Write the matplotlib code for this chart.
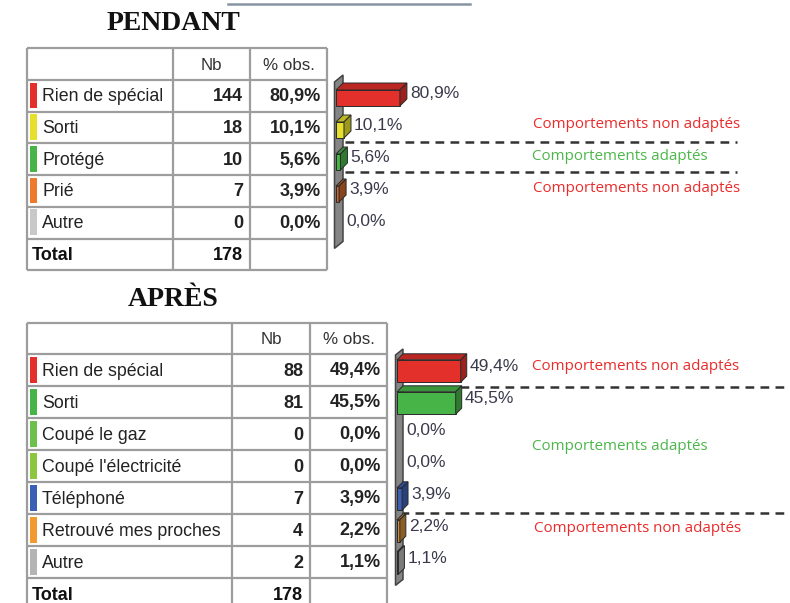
import matplotlib.pyplot as plt
import numpy as np
from matplotlib.patches import Polygon, Rectangle

# data
pendant_labels = ["Rien de spécial", "Sorti", "Protégé", "Prié", "Autre"]
pendant_nb = [144, 18, 10, 7, 0]
pendant_pct = [80.9, 10.1, 5.6, 3.9, 0.0]
pendant_total = 178
pendant_colors = ["#e3302a", "#e6df2c", "#46b447", "#ee7a2e", "#c8c8c8"]
pendant_barcolors = ["#e3302a", "#e6df2c", "#46b447", "#c9652a", "#c8c8c8"]

apres_labels = ["Rien de spécial", "Sorti", "Coupé le gaz", "Coupé l'électricité",
                "Téléphoné", "Retrouvé mes proches", "Autre"]
apres_nb = [88, 81, 0, 0, 7, 4, 2]
apres_pct = [49.4, 45.5, 0.0, 0.0, 3.9, 2.2, 1.1]
apres_total = 178
apres_colors = ["#e3302a", "#46b447", "#6cc14c", "#8cc63f", "#3b5fb5", "#f29a30", "#b4b4b4"]
apres_barcolors = ["#e3302a", "#46b447", "#6cc14c", "#8cc63f", "#3b5fb5", "#c98a3a", "#b4b4b4"]

RED = "#ea2b2b"
GREEN = "#4cb64a"

W, H = 790, 603
fig = plt.figure(figsize=(W / 100, H / 100), dpi=100)
ax = fig.add_axes([0, 0, 1, 1])
ax.set_xlim(0, W)
ax.set_ylim(H, 0)
ax.axis("off")

SANS = ["Liberation Sans", "DejaVu Sans"]
grid = "#9d9d9d"


def fmt(v):
    return f"{v:.1f}%".replace(".", ",")


def draw_table(cols, y_top, head_h, row_h, labels, nb, pct, colors, total):
    n = len(labels)
    ys = [y_top, y_top + head_h] + [y_top + head_h + row_h * (i + 1) for i in range(n + 1)]
    for y in ys:
        ax.plot([cols[0], cols[-1]], [y, y], color=grid, lw=1.6, solid_capstyle="butt")
    for x in cols:
        ax.plot([x, x], [ys[0], ys[-1]], color=grid, lw=1.6, solid_capstyle="butt")
    hy = (ys[0] + ys[1]) / 2 + 1
    ax.text((cols[1] + cols[2]) / 2, hy, "Nb", ha="center", va="center",
            family=SANS, fontsize=12.2, color="#333333")
    ax.text((cols[2] + cols[3]) / 2, hy, "% obs.", ha="center", va="center",
            family=SANS, fontsize=12.2, color="#333333")
    for i in range(n):
        r0, r1 = ys[i + 1], ys[i + 2]
        cy = (r0 + r1) / 2 + 1
        ax.add_patch(Rectangle((cols[0] + 2.5, r0 + 2.5), 7, r1 - r0 - 6,
                               color=colors[i], lw=0))
        ax.text(cols[0] + 15, cy, labels[i], ha="left", va="center",
                family=SANS, fontsize=12.8, color="#222222")
        ax.text(cols[2] - 7, cy, str(nb[i]), ha="right", va="center",
                family=SANS, fontsize=13, weight="bold", color="#222222")
        ax.text(cols[3] - 6, cy, fmt(pct[i]), ha="right", va="center",
                family=SANS, fontsize=13, weight="bold", color="#222222")
    r0, r1 = ys[-2], ys[-1]
    cy = (r0 + r1) / 2 + 1
    ax.text(cols[0] + 5, cy, "Total", ha="left", va="center",
            family=SANS, fontsize=13, weight="bold", color="#111111")
    ax.text(cols[2] - 7, cy, str(total), ha="right", va="center",
            family=SANS, fontsize=13, weight="bold", color="#111111")


def shade(c, f):
    rgb = np.array(plt.matplotlib.colors.to_rgb(c))
    return tuple(rgb * f)


def draw_bars(box, px_per_pct, values, colors, bar_h, depth):
    x0, y0, x1, y1 = box
    bax = fig.add_axes([x0 / W, 1 - y1 / H, (x1 - x0) / W, (y1 - y0) / H])
    n = len(values)
    xmax = (x1 - x0) / px_per_pct
    bax.set_xlim(0, xmax)
    bax.set_ylim(n - 0.5, -0.5)
    bax.axis("off")
    row_px = (y1 - y0) / n
    dx = depth / px_per_pct
    dy = depth / row_px
    # grey back wall
    lo, hi = n - 0.3, -0.5
    wall = Polygon([(-1.5 / px_per_pct, lo), (-1.5 / px_per_pct, hi),
                    (dx, hi - dy), (dx, lo - dy)],
                   closed=True, fc="#858585", ec="#444444", lw=1.1, clip_on=False)
    bax.add_patch(wall)
    ys = np.arange(n)
    bax.barh(ys, values, height=bar_h, color=colors,
             edgecolor=["#2a2a2a" if v > 0 else "none" for v in values], lw=0.7)
    for y, v, c in zip(ys, values, colors):
        if v > 0:
            top, bot = y - bar_h / 2, y + bar_h / 2
            bax.add_patch(Polygon([(0, top), (v, top), (v + dx, top - dy), (dx, top - dy)],
                                  closed=True, fc=shade(c, 0.82), ec="#2a2a2a", lw=0.7,
                                  clip_on=False))
            bax.add_patch(Polygon([(v, top), (v + dx, top - dy), (v + dx, bot - dy), (v, bot)],
                                  closed=True, fc=shade(c, 0.68), ec="#2a2a2a", lw=0.7,
                                  clip_on=False))
        bax.text(max(v, 0) + dx + 3 / px_per_pct, y - dy / 2 - 0.04, fmt(v),
                 ha="left", va="center", family=SANS, fontsize=12.5, color="#3a3a4c")
    return bax


# fragment of the page rule above
ax.plot([228, 470], [4, 4], color="#8794a2", lw=1.8)

# PENDANT
ax.text(173, 24, "PENDANT", ha="center", va="center", family="Liberation Serif",
        weight="bold", fontsize=20, color="#111111")
draw_table([27, 173, 250, 327], 48, 32, 31.7, pendant_labels, pendant_nb,
           pendant_pct, pendant_colors, pendant_total)
draw_bars((336, 82, 737, 242), 0.79, pendant_pct, pendant_barcolors, 0.5, 7)

for y in (142, 172):
    ax.plot([345, 737], [y, y], color="#333333", lw=1.8, ls=(0, (3.5, 2.5)))
ax.text(637, 125, "Comportements non adaptés", ha="center", va="center",
        family="Open Sans", fontsize=10.9, color=RED)
ax.text(620, 157, "Comportements adaptés", ha="center", va="center",
        family="Open Sans", fontsize=10.9, color=GREEN)
ax.text(637, 189, "Comportements non adaptés", ha="center", va="center",
        family="Open Sans", fontsize=10.9, color=RED)

# APRÈS
ax.text(173, 299, "APRÈS", ha="center", va="center", family="Liberation Serif",
        weight="bold", fontsize=20, color="#111111")
draw_table([27, 232, 310, 387], 323, 31, 32, apres_labels, apres_nb,
           apres_pct, apres_colors, apres_total)
draw_bars((397, 355, 790, 579), 1.29, apres_pct, apres_barcolors, 0.7, 6)

for y in (387, 513):
    ax.plot([400, 790], [y, y], color="#333333", lw=1.8, ls=(0, (3.5, 2.5)))
ax.text(636, 366, "Comportements non adaptés", ha="center", va="center",
        family="Open Sans", fontsize=10.9, color=RED)
ax.text(620, 447, "Comportements adaptés", ha="center", va="center",
        family="Open Sans", fontsize=10.9, color=GREEN)
ax.text(638, 528, "Comportements non adaptés", ha="center", va="center",
        family="Open Sans", fontsize=10.9, color=RED)

fig.savefig("out.png", dpi=100)
